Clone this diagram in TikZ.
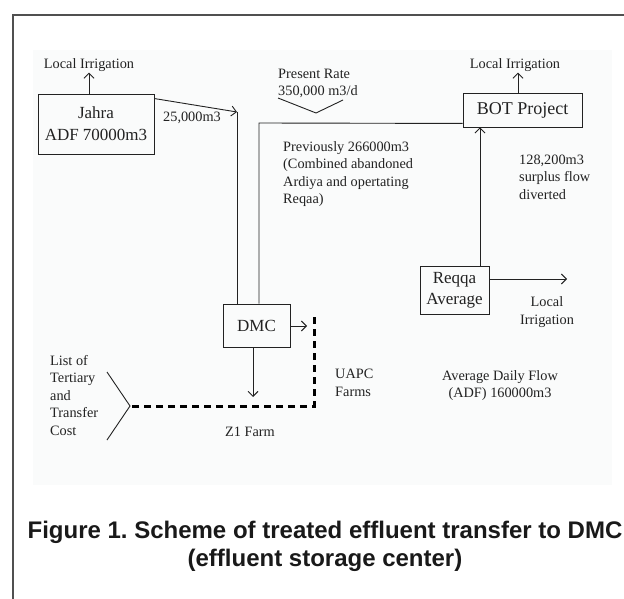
\documentclass[tikz,border=0pt]{standalone}
\usepackage{fontspec}
\setmainfont{Liberation Serif}
\newfontfamily\capfont{Liberation Sans}
\usetikzlibrary{arrows.meta}
\definecolor{ink}{RGB}{34,34,34}
\definecolor{panel}{RGB}{250,251,251}
\definecolor{framec}{RGB}{80,80,80}
\tikzset{
  every node/.style={inner sep=0pt, text=ink},
  small/.style={font=\fontsize{14.3}{17.5}\selectfont},
  big/.style={font=\fontsize{17}{22}\selectfont},
  boxn/.style={draw=ink, line width=0.9pt, big, align=center},
  ln/.style={draw=ink, line width=0.9pt},
  arr/.style={ln, -{Straight Barb[length=5pt,width=10pt]}},
  dashl/.style={draw=black, line width=3pt, dash pattern=on 7pt off 5pt}
}
\begin{document}
\frenchspacing
\begin{tikzpicture}[x=1pt,y=-1pt]
\useasboundingbox (0,0) rectangle (624,599);
% frame and panel
\fill[panel] (33,50) rectangle (612,485);
\draw[framec, line width=1.3pt] (624,15) -- (13,15) -- (13,599);

% boxes
\node[boxn, minimum width=116pt, minimum height=60pt] (jahra) at (96,124) {Jahra\\ADF 70000m3};
\node[boxn, minimum width=119pt, minimum height=34pt, font=\fontsize{18}{22}\selectfont] (bot) at (522.5,110) {BOT Project};
\node[boxn, minimum width=67pt, minimum height=43pt] (dmc) at (256.5,325.5) {DMC};
\node[boxn, minimum width=69pt, minimum height=48pt, font=\fontsize{17}{21}\selectfont] (reqqa) at (454.5,290) {Reqqa\\Average};

% labels
\node[small] (li1) at (89,65) {Local Irrigation};
\node[small] (li2) at (515,65) {Local Irrigation};
\node[small, anchor=west] (q25) at (163,118) {25,000m3};
\node[small, anchor=west, align=left] (present) at (278,83.5) {Present Rate\\350,000 m3/d};
\node[small, anchor=west, align=left] (prev) at (283,174) {Previously 266000m3\\(Combined abandoned\\Ardiya and opertating\\Reqaa)};
\node[small, anchor=west, align=left] (surplus) at (519,177) {128,200m3\\surplus flow\\diverted};
\node[small, align=center] (li3) at (547,312) {Local\\Irrigation};
\node[small, anchor=west, align=left] (uapc) at (335,383) {UAPC\\Farms};
\node[small, align=center] (adf) at (500,385.5) {Average Daily Flow\\(ADF) 160000m3};
\node[small, anchor=west, align=left] (list) at (50,395.5) {List of\\Tertiary\\and\\Transfer\\Cost};
\node[small] (z1) at (250,432) {Z1 Farm};

% coordinates
\coordinate (j1) at (237,112);
\coordinate (c2) at (259,123);
\coordinate (v1) at (278,98);
\coordinate (v2) at (316,113);
\coordinate (v3) at (343,100);
\coordinate (d1) at (307,326);
\coordinate (d2) at (253,397);
\coordinate (p1) at (314,317);
\coordinate (p2) at (314,406);
\coordinate (p3) at (132,406);
\coordinate (r1) at (567,279);
\coordinate (k1) at (107,372);
\coordinate (k2) at (130,406);
\coordinate (k3) at (107,440);

% connectors
\draw[arr] (li1.south |- jahra.north) -- ([yshift=-1pt]li1.south);
\draw[arr] ([xshift=3pt]li2.south |- bot.north) -- ([xshift=3pt,yshift=-1pt]li2.south);
\draw[arr] ([yshift=-5pt]jahra.north east) -- (j1);
\draw[ln] (j1) -- (j1 |- dmc.north);
\draw[ln] ([yshift=4pt]bot.south west) -- (c2) -- (c2 |- dmc.north);
\draw[ln] (v1) -- (v2) -- (v3);
\draw[arr] ([xshift=25.5pt]reqqa.north) -- ([xshift=25.5pt]reqqa.north |- bot.south);
\draw[arr] (reqqa.east |- r1) -- (r1);
\draw[arr] (dmc.east |- d1) -- (d1);
\draw[arr] (dmc.south -| d2) -- (d2);
\draw[dashl] (p1) -- (p2) -- (p3);
\draw[ln] (k1) -- (k2) -- (k3);

% caption
\node[font=\capfont\bfseries\fontsize{24}{28}\selectfont, align=center, text=black!90] (cap) at (325,546) {Figure 1. Scheme of treated effluent transfer to DMC\\(effluent storage center)};
\end{tikzpicture}
\end{document}
